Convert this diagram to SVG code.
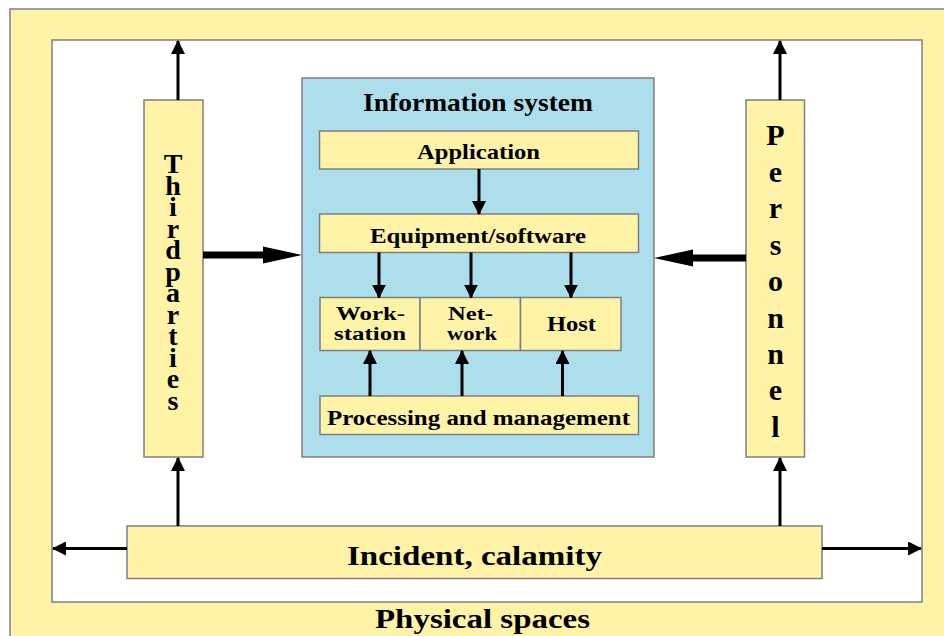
<svg xmlns="http://www.w3.org/2000/svg" width="944" height="636" viewBox="0 0 944 636">
<defs>
<style>
.y{fill:#FFF3A8;stroke:#7f7f7f;stroke-width:1.5}
.b{fill:#ACDFEB;stroke:#7f7f7f;stroke-width:1.5}
.w{fill:#ffffff;stroke:#7f7f7f;stroke-width:1.5}
text{font-family:"Liberation Serif","Times New Roman",serif;font-weight:bold;fill:#000;text-anchor:middle}
.t25{font-size:25px}
.t22{font-size:21px}
.t18{font-size:18px}
.t28{font-size:28px}
.v1{font-size:28px;writing-mode:vertical-rl;text-orientation:upright;letter-spacing:-9.5px;word-spacing:-21.5px;text-anchor:start}
.v2{font-size:30px}
.ln{stroke:#000;stroke-width:3;fill:none}
.thick{stroke:#000;stroke-width:7;fill:none}
</style>
<marker id="ah" markerUnits="userSpaceOnUse" markerWidth="14" markerHeight="14" refX="12" refY="6.5" orient="auto" viewBox="0 0 13 13">
<path d="M0,0 L13,6.5 L0,13 Z" fill="#000"/>
</marker>
</defs>
<rect width="944" height="636" fill="#ffffff"/>
<g id="physical-spaces">
<rect class="y" x="10" y="9" width="960" height="660"/>
<rect class="w" x="52" y="40" width="870" height="562"/>
<text class="t28" x="482.5" y="628" textLength="215" lengthAdjust="spacingAndGlyphs">Physical spaces</text>
</g>
<g id="information-system">
<rect class="b" x="302" y="78" width="352" height="379"/>
<text class="t25" x="478" y="111" textLength="230" lengthAdjust="spacingAndGlyphs">Information system</text>
</g>
<g id="application">
<rect class="y" x="319.5" y="131" width="319" height="38"/>
<text class="t22" x="478.5" y="159" textLength="123" lengthAdjust="spacingAndGlyphs">Application</text>
</g>
<g id="equipment-software">
<rect class="y" x="319.5" y="214" width="319" height="38.5"/>
<text class="t22" x="478" y="243" textLength="216" lengthAdjust="spacingAndGlyphs">Equipment/software</text>
</g>
<g id="workstation">
<rect class="y" x="320" y="297.5" width="100" height="53"/>
<text class="t18"><tspan x="370.5" y="319.5" textLength="69" lengthAdjust="spacingAndGlyphs">Work-</tspan><tspan x="370" y="339.5" textLength="72" lengthAdjust="spacingAndGlyphs">station</tspan></text>
</g>
<g id="network">
<rect class="y" x="420" y="297.5" width="100.5" height="53"/>
<text class="t18"><tspan x="470.5" y="319.5" textLength="45" lengthAdjust="spacingAndGlyphs">Net-</tspan><tspan x="472" y="339.5" textLength="50" lengthAdjust="spacingAndGlyphs">work</tspan></text>
</g>
<g id="host">
<rect class="y" x="520.5" y="297.5" width="100.5" height="53"/>
<text class="t22" x="571.5" y="330.5" textLength="49" lengthAdjust="spacingAndGlyphs">Host</text>
</g>
<g id="processing-management">
<rect class="y" x="320" y="396" width="318.5" height="38.5"/>
<text class="t22" x="478.5" y="425" textLength="303" lengthAdjust="spacingAndGlyphs">Processing and management</text>
</g>
<g id="third-parties">
<rect class="y" x="144" y="100" width="59" height="357"/>
<text class="v1" x="173" y="148">Third parties</text>
</g>
<g id="personnel">
<rect class="y" x="746" y="100" width="58.5" height="357"/>
<text class="v2"><tspan x="775.5" y="145">P</tspan><tspan x="775.5" y="182">e</tspan><tspan x="775.5" y="218">r</tspan><tspan x="775.5" y="255">s</tspan><tspan x="775.5" y="291">o</tspan><tspan x="775.5" y="328">n</tspan><tspan x="775.5" y="364">n</tspan><tspan x="775.5" y="400">e</tspan><tspan x="775.5" y="437">l</tspan></text>
</g>
<g id="incident-calamity">
<rect class="y" x="127" y="526" width="695" height="52.5"/>
<text class="t28" x="474.5" y="565" textLength="255" lengthAdjust="spacingAndGlyphs">Incident, calamity</text>
</g>
<g id="connectors">
<line class="ln" x1="178" y1="100" x2="178" y2="41" marker-end="url(#ah)"/>
<line class="ln" x1="780" y1="100" x2="780" y2="41" marker-end="url(#ah)"/>
<line class="ln" x1="178" y1="526" x2="178" y2="458" marker-end="url(#ah)"/>
<line class="ln" x1="780" y1="526" x2="780" y2="458" marker-end="url(#ah)"/>
<line class="ln" x1="127" y1="548.5" x2="53" y2="548.5" marker-end="url(#ah)"/>
<line class="ln" x1="822" y1="548.5" x2="921" y2="548.5" marker-end="url(#ah)"/>
<line class="ln" x1="479" y1="169" x2="479" y2="214" marker-end="url(#ah)"/>
<line class="ln" x1="379" y1="252.5" x2="379" y2="297.5" marker-end="url(#ah)"/>
<line class="ln" x1="471" y1="252.5" x2="471" y2="297.5" marker-end="url(#ah)"/>
<line class="ln" x1="571" y1="252.5" x2="571" y2="297.5" marker-end="url(#ah)"/>
<line class="ln" x1="370" y1="396" x2="370" y2="351" marker-end="url(#ah)"/>
<line class="ln" x1="462" y1="396" x2="462" y2="351" marker-end="url(#ah)"/>
<line class="ln" x1="562.5" y1="396" x2="562.5" y2="351" marker-end="url(#ah)"/>
<line class="thick" x1="203" y1="255" x2="266" y2="255"/>
<path d="M263,246.5 L302,255 L263,263.5 Z" fill="#000"/>
<line class="thick" x1="746" y1="258" x2="690" y2="258"/>
<path d="M693,249.5 L654,258 L693,266.5 Z" fill="#000"/>
</g>
</svg>
